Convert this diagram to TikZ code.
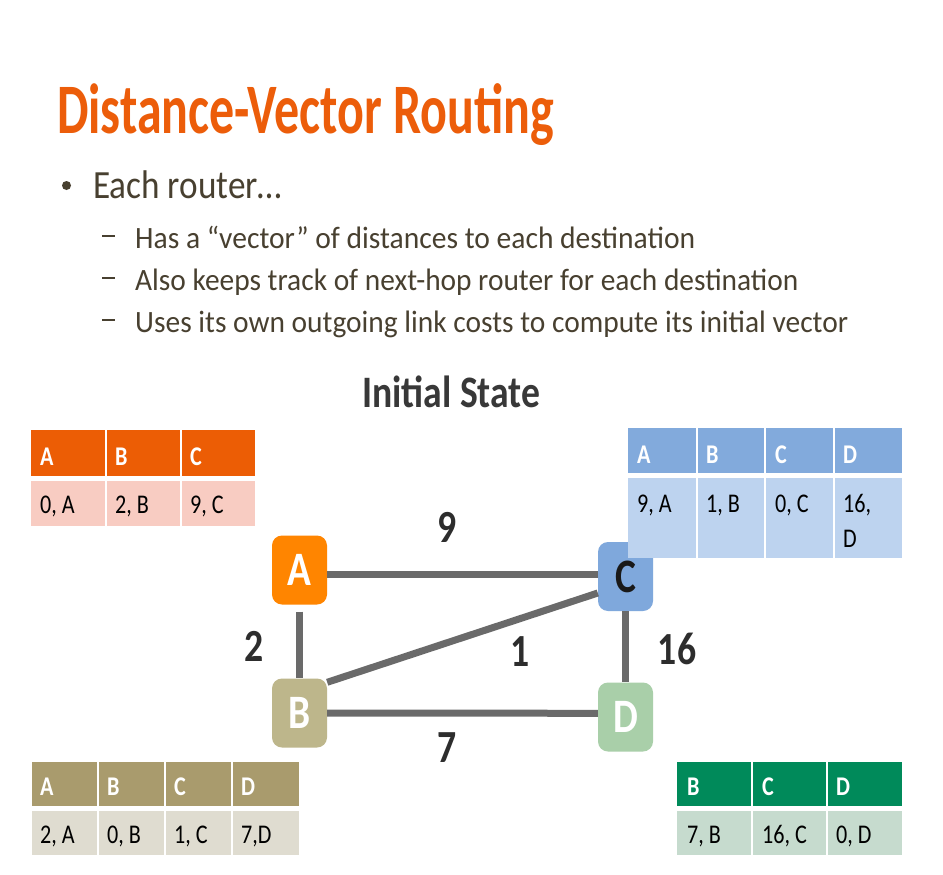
\documentclass[tikz,border=0pt]{standalone}
\usepackage{fontspec}
\usepackage{graphicx}
\setmainfont{Carlito}
\usetikzlibrary{calc}

\definecolor{titleorange}{RGB}{236,93,10}
\definecolor{bodybrown}{RGB}{72,64,48}
\definecolor{stategray}{RGB}{56,56,56}
\definecolor{linkgray}{RGB}{106,106,106}
\definecolor{costgray}{RGB}{45,45,45}
\definecolor{routerA}{RGB}{255,133,0}
\definecolor{routerB}{RGB}{189,182,139}
\definecolor{routerC}{RGB}{127,168,220}
\definecolor{routerD}{RGB}{169,207,169}
\definecolor{headA}{RGB}{236,93,5}
\definecolor{bodyA}{RGB}{248,204,194}
\definecolor{headB}{RGB}{169,155,109}
\definecolor{bodyB}{RGB}{223,220,208}
\definecolor{headC}{RGB}{130,170,220}
\definecolor{bodyC}{RGB}{189,211,239}
\definecolor{headD}{RGB}{0,138,90}
\definecolor{bodyD}{RGB}{198,219,206}

\newcommand{\sqz}[1]{\scalebox{0.82}[1]{#1}}
\newcommand{\fitto}[2]{\resizebox{#1}{\height}{#2}}

\tikzset{
  router/.style={rounded corners=10pt, minimum width=55pt, minimum height=69pt, inner sep=0pt, text=white, font=\fontsize{48}{48}\selectfont\bfseries},
  link/.style={draw=linkgray, line width=7pt},
  cost/.style={inner sep=0pt, text=costgray, font=\fontsize{46}{46}\selectfont\bfseries},
  line/.style={anchor=base west, inner sep=0pt, text=bodybrown},
  cell/.style={anchor=base west, inner sep=0pt, text=black, font=\fontsize{27}{27}\selectfont},
  headcell/.style={cell, text=white, font=\fontsize{27}{27}\selectfont\bfseries},
  sep/.style={draw=white, line width=2pt},
}

\begin{document}
\begin{tikzpicture}[line join=round,x=1pt,y=-1pt]
\fill[white] (0, 0) rectangle (943, 875);
\useasboundingbox (0, 0) rectangle (943, 875);

\node[anchor=base west, inner sep=0pt, text=titleorange] (title) at (57, 133) {\fitto{497pt}{\fontsize{71}{71}\selectfont\bfseries Distance-Vector Routing}};

\fill[bodybrown] (66.5, 185.5) circle (4.5);
\node[line] (l0) at (93, 198) {\fitto{189pt}{\fontsize{40}{40}\selectfont Each router…}};

\draw[bodybrown, line width=2pt] (102, 236) -- (115, 236);
\draw[bodybrown, line width=2pt] (102, 278) -- (115, 278);
\draw[bodybrown, line width=2pt] (102, 320) -- (115, 320);
\node[line] (l1) at (135, 248) {\fitto{560pt}{\fontsize{31}{31}\selectfont Has a “vector” of distances to each destination}};
\node[line] (l2) at (135, 290) {\fitto{663pt}{\fontsize{31}{31}\selectfont Also keeps track of next-hop router for each destination}};
\node[line] (l3) at (135, 332) {\fitto{713pt}{\fontsize{31}{31}\selectfont Uses its own outgoing link costs to compute its initial vector}};

\node[anchor=base west, inner sep=0pt, text=stategray] (state) at (362, 407) {\fitto{178pt}{\fontsize{45}{45}\selectfont\bfseries Initial State}};

\node[router, fill=routerA] (A) at (299.5, 570) {\sqz{A}};
\node[router, fill=routerB] (B) at (299.5, 713) {\sqz{B}};
\node[router, fill=routerC, text=black!90] (C) at (625.5, 576.5) {\sqz{C}};
\node[router, fill=routerD] (D) at (625.5, 717) {\sqz{D}};

\draw[link] ([yshift=-4pt]A.east) -- ([yshift=2.5pt]C.west);
\draw[link] ([yshift=-7pt]A.south) -- (B.north);
\draw[link] ([yshift=-4pt]B.north east) -- ([yshift=-16.5pt]C.west);
\draw[link] (B.east) -- ([yshift=3.7pt]D.west);
\draw[link] (C.south) -- (D.north);

\draw (447.5, 527) node[cost] (c9) {\sqz{9}};
\draw (254.5, 646.5) node[cost] (c2) {\sqz{2}};
\draw (520, 651.5) node[cost] (c1) {\sqz{1}};
\draw (677, 649) node[cost] (c16) {\sqz{16}};
\draw (447.5, 748) node[cost] (c7) {\sqz{7}};

\fill[headA] (31, 430) rectangle (255, 476);
\fill[bodyA] (31, 481) rectangle (255, 526);
\draw[sep] (105.5, 430) -- (105.5, 526);
\draw[sep] (180.5, 430) -- (180.5, 526);
\node[headcell] (aA) at (40, 465) {\sqz{A}};
\node[headcell] (aB) at (115, 465) {\sqz{B}};
\node[headcell] (aC) at (190, 465) {\sqz{C}};
\node[cell] (aAv) at (40, 513) {\sqz{0, A}};
\node[cell] (aBv) at (115, 513) {\sqz{2, B}};
\node[cell] (aCv) at (190, 513) {\sqz{9, C}};

\fill[headB] (32, 762) rectangle (299, 806);
\fill[bodyB] (32, 811) rectangle (299, 855);
\draw[sep] (98, 762) -- (98, 855);
\draw[sep] (165, 762) -- (165, 855);
\draw[sep] (232, 762) -- (232, 855);
\node[headcell] (bA) at (40, 795) {\sqz{A}};
\node[headcell] (bB) at (107, 795) {\sqz{B}};
\node[headcell] (bC) at (174, 795) {\sqz{C}};
\node[headcell] (bD) at (241, 795) {\sqz{D}};
\node[cell] (bAv) at (40, 843) {\sqz{2, A}};
\node[cell] (bBv) at (107, 843) {\sqz{0, B}};
\node[cell] (bCv) at (174, 843) {\sqz{1, C}};
\node[cell] (bDv) at (241, 843) {\sqz{7,D}};

\fill[headC] (628, 428) rectangle (902, 473);
\fill[bodyC] (628, 478) rectangle (902, 558);
\draw[sep] (696.5, 428) -- (696.5, 558);
\draw[sep] (765, 428) -- (765, 558);
\draw[sep] (833.5, 428) -- (833.5, 558);
\node[headcell] (cA) at (637, 463) {\sqz{A}};
\node[headcell] (cB) at (706, 463) {\sqz{B}};
\node[headcell] (cC) at (775, 463) {\sqz{C}};
\node[headcell] (cD) at (843, 463) {\sqz{D}};
\node[cell] (cAv) at (637, 512) {\sqz{9, A}};
\node[cell] (cBv) at (706, 512) {\sqz{1, B}};
\node[cell] (cCv) at (775, 512) {\sqz{0, C}};
\node[cell] (cDv) at (843, 512) {\sqz{16,}};
\node[cell] (cDw) at (843, 547) {\sqz{D}};

\fill[headD] (677, 762) rectangle (902, 806);
\fill[bodyD] (677, 811) rectangle (902, 855);
\draw[sep] (752, 762) -- (752, 855);
\draw[sep] (826.5, 762) -- (826.5, 855);
\node[headcell] (dB) at (687, 795) {\sqz{B}};
\node[headcell] (dC) at (762, 795) {\sqz{C}};
\node[headcell] (dD) at (836, 795) {\sqz{D}};
\node[cell] (dBv) at (687, 843) {\sqz{7, B}};
\node[cell] (dCv) at (762, 843) {\sqz{16, C}};
\node[cell] (dDv) at (836, 843) {\sqz{0, D}};

\end{tikzpicture}
\end{document}
